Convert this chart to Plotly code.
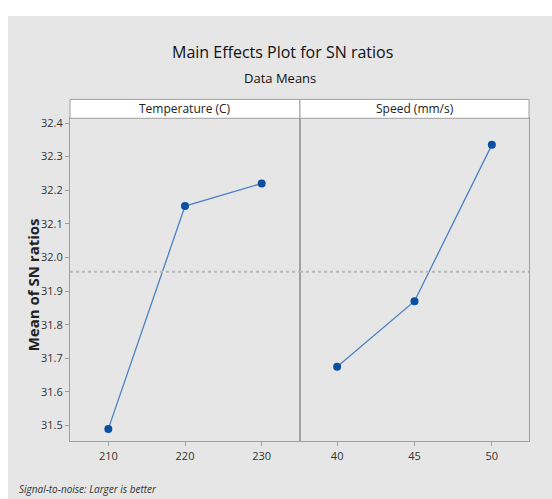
import plotly.graph_objects as go

W, H = 552, 499

temp_levels = [210, 220, 230]
temp_sn = [31.49, 32.153, 32.22]
speed_levels = [40, 45, 50]
speed_sn = [31.675, 31.870, 32.335]
y_ticks = [31.5, 31.6, 31.7, 31.8, 31.9, 32.0, 32.1, 32.2, 32.3, 32.4]
y_tick_text = ["31.5", "31.6", "31.7", "31.8", "31.9", "32.0", "32.1", "32.2", "32.3", "32.4"]
panel_titles = ["Temperature (C)", "Speed (mm/s)"]
grand_mean = sum(temp_sn + speed_sn) / 6.0

def px(x):
    return x / W

def py(y):
    return 1 - y / H

FONT = "Open Sans"
line_col = "#4a82c4"
mark_col = "#0a4fa0"
frame_col = "#a0a0a0"

fig = go.Figure()
fig.add_trace(go.Scatter(x=temp_levels, y=temp_sn, mode="lines+markers",
                         line=dict(color=line_col, width=1.3),
                         marker=dict(color=mark_col, size=8, symbol="circle"),
                         xaxis="x", yaxis="y", showlegend=False))
fig.add_trace(go.Scatter(x=speed_levels, y=speed_sn, mode="lines+markers",
                         line=dict(color=line_col, width=1.3),
                         marker=dict(color=mark_col, size=8, symbol="circle"),
                         xaxis="x2", yaxis="y2", showlegend=False))

yr = [31.453, 32.414]
ydom = [py(441), py(116)]
common_x = dict(showline=True, linecolor=frame_col, mirror=True, ticks="outside",
                ticklen=4, tickcolor=frame_col, showgrid=False, zeroline=False,
                tickfont=dict(family=FONT, size=11, color="#333333"))
fig.update_layout(
    width=W, height=H, margin=dict(l=0, r=0, t=0, b=0),
    paper_bgcolor="white", plot_bgcolor="white",
    xaxis=dict(domain=[px(70), px(300)], range=[205, 235], tickvals=temp_levels,
               anchor="y", **common_x),
    xaxis2=dict(domain=[px(300), px(529)], range=[37.6, 52.4], tickvals=speed_levels,
                anchor="y2", **common_x),
    yaxis=dict(domain=ydom, range=yr, tickvals=y_ticks, ticktext=y_tick_text,
               showline=True, linecolor=frame_col, mirror=True, ticks="outside",
               ticklen=4, tickcolor=frame_col, showgrid=False, zeroline=False,
               tickfont=dict(family=FONT, size=11, color="#333333"), anchor="x"),
    yaxis2=dict(domain=ydom, range=yr, showticklabels=False, showline=True,
                linecolor=frame_col, mirror=True, ticks="", showgrid=False,
                zeroline=False, anchor="x2", matches="y"),
)

shapes = [
    dict(type="rect", xref="paper", yref="paper", x0=px(8), x1=1, y0=0, y1=py(13),
         fillcolor="#e6e6e6", line=dict(width=0), layer="below"),
    dict(type="rect", xref="paper", yref="paper", x0=px(70), x1=px(300), y0=py(116), y1=py(97),
         fillcolor="white", line=dict(color=frame_col, width=1)),
    dict(type="rect", xref="paper", yref="paper", x0=px(300), x1=px(529), y0=py(116), y1=py(97),
         fillcolor="white", line=dict(color=frame_col, width=1)),
    dict(type="line", xref="x", yref="y", x0=205, x1=235, y0=grand_mean, y1=grand_mean,
         line=dict(color="#b8b8b8", width=2, dash="dot")),
    dict(type="line", xref="x2", yref="y2", x0=37.6, x1=52.4, y0=grand_mean, y1=grand_mean,
         line=dict(color="#b8b8b8", width=2, dash="dot")),
]
fig.update_layout(shapes=shapes)

ann = [
    dict(text="Main Effects Plot for SN ratios", x=px(282), y=py(49), xref="paper", yref="paper",
         showarrow=False, font=dict(family=FONT, size=16, color="#111111"), xanchor="center", yanchor="middle"),
    dict(text="Data Means", x=px(280), y=py(75), xref="paper", yref="paper",
         showarrow=False, font=dict(family=FONT, size=13, color="#111111"), xanchor="center", yanchor="middle"),
    dict(text=panel_titles[0], x=px(185), y=py(106.5), xref="paper", yref="paper",
         showarrow=False, font=dict(family=FONT, size=12, color="#222222"), xanchor="center", yanchor="middle"),
    dict(text=panel_titles[1], x=px(414.5), y=py(106.5), xref="paper", yref="paper",
         showarrow=False, font=dict(family=FONT, size=12, color="#222222"), xanchor="center", yanchor="middle"),
    dict(text="<b>Mean of SN ratios</b>", x=px(33), y=py(284), xref="paper", yref="paper",
         showarrow=False, textangle=-90, font=dict(family=FONT, size=15, color="#222222"),
         xanchor="center", yanchor="middle"),
    dict(text="<i>Signal-to-noise: Larger is better</i>", x=px(17), y=py(489), xref="paper", yref="paper",
         showarrow=False, font=dict(family=FONT, size=10, color="#333333"), xanchor="left", yanchor="middle"),
]
fig.update_layout(annotations=ann)

fig.write_html("out.html")
